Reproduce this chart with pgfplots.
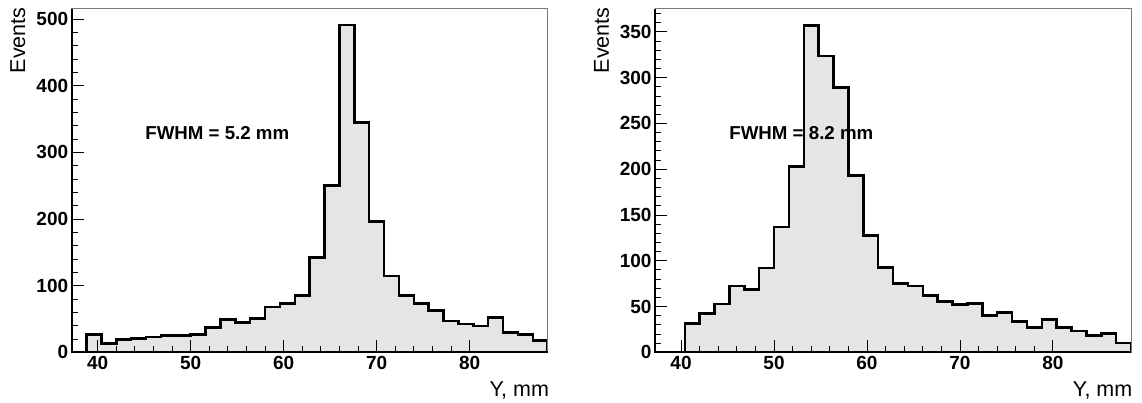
\documentclass[border=0pt]{standalone}
\usepackage{fontspec}
\setmainfont{Liberation Sans}
\usepackage{pgfplots}
\pgfplotsset{compat=1.18}

\definecolor{histfill}{RGB}{229,229,229}
\definecolor{framegray}{RGB}{120,120,120}

\pgfplotsset{
  rootstyle/.style={
    scale only axis,
    width=476bp, height=343.3bp,
    xmin=37.2, xmax=88.4, ymin=0,
    axis on top,
    axis line style={framegray, line width=1bp},
    xtick={40,50,60,70,80},
    minor x tick num=4,
    minor y tick num=4,
    xtick pos=bottom, ytick pos=left,
    tick align=inside,
    major tick length=12bp, minor tick length=6bp,
    tick style={black, line width=0.9bp},
    scaled ticks=false,
    /pgf/number format/assume math mode=true,
    ticklabel style={font=\fontsize{19bp}{19bp}\selectfont\bfseries},
    label style={font=\fontsize{21.5bp}{21.5bp}\selectfont, inner sep=0pt},
    xlabel style={at={(axis description cs:1.003,0)}, anchor=base east, yshift=-43.7bp},
    after end axis/.code={\draw[black, line width=2bp] (rel axis cs:0,1) -- (rel axis cs:0,0) -- (rel axis cs:1,0);},
  },
  histstyle/.style={const plot, draw=black, line width=2.5bp, fill=histfill},
}

\begin{document}
\begin{tikzpicture}
\useasboundingbox (0,0) rectangle (1142bp,403bp);

\begin{axis}[rootstyle,
  at={(71.7bp,50.7bp)}, anchor=south west,
  ymax=515, ytick distance=100,
  xlabel={Y, mm}, ylabel={Events},
  ylabel style={at={(axis description cs:-0.113,1.005)}, anchor=east},
]
\addplot[histstyle] coordinates {
(37.2,0) (38.8,27) (40.4,13) (42.0,19.5) (43.6,20.5) (45.2,23) (46.8,25) (48.4,25)
(50.0,27) (51.6,37) (53.2,49) (54.8,44.5) (56.4,51) (58.0,68) (59.6,73.5) (61.2,85)
(62.8,142.5) (64.4,250) (66.0,491) (67.6,345) (69.2,196) (70.8,114.5) (72.4,85) (74.0,73.5)
(75.6,62.5) (77.2,47) (78.8,42.5) (80.4,39.5) (82.0,52) (83.6,30) (85.2,26.5) (86.8,17.5) (88.4,17.5)
} \closedcycle;
\node[anchor=base west, inner sep=0pt, font=\fontsize{18.7bp}{18.7bp}\selectfont\bfseries] at (axis cs:45.1,319.5) {FWHM = 5.2 mm};
\end{axis}

\begin{axis}[rootstyle,
  at={(655bp,50.7bp)}, anchor=south west,
  ymax=375, ytick distance=50,
  xlabel={Y, mm}, ylabel={Events},
  ylabel style={at={(axis description cs:-0.112,1.005)}, anchor=east},
]
\addplot[histstyle] coordinates {
(37.2,0) (38.8,0) (40.4,31.7) (42.0,42.6) (43.6,52.8) (45.2,72.4) (46.8,68.8) (48.4,92.1)
(50.0,136.8) (51.6,202.7) (53.2,357) (54.8,323.5) (56.4,289) (58.0,193) (59.6,127.7) (61.2,92.4)
(62.8,75.3) (64.4,72.4) (66.0,61.9) (67.6,55.3) (69.2,52.4) (70.8,53.5) (72.4,40) (74.0,43.7)
(75.6,33.5) (77.2,27) (78.8,36) (80.4,27) (82.0,23.3) (83.6,18.2) (85.2,20.4) (86.8,10.2) (88.4,10.2)
} \closedcycle;
\node[anchor=base west, inner sep=0pt, font=\fontsize{18.7bp}{18.7bp}\selectfont\bfseries] at (axis cs:45.18,232.5) {FWHM = 8.2 mm};
\end{axis}
\end{tikzpicture}
\end{document}
